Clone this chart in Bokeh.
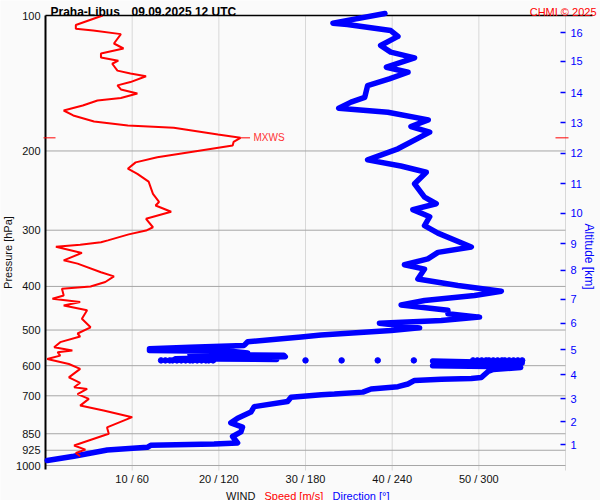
import math
from bokeh.plotting import figure
from bokeh.models import Range1d, Label
from bokeh.core.properties import value
from bokeh.embed import file_html
from bokeh.resources import INLINE

# ---------------- data ----------------
# wind speed profile [m/s] vs pressure [hPa]
SPD_P = [100, 105, 107, 108, 110, 115.4, 118.4, 121.5, 124, 126, 128, 132.6, 134.6, 136.5,
         140.6, 143, 146, 149, 152.5, 154.5, 158.5, 162.6, 166.8, 172, 175.6, 177.6, 183.9,
         187, 191, 194.5, 201, 206.5, 212, 219, 224.8, 234, 249, 259.6, 264.4, 273, 283,
         295.5, 300.5, 306.5, 316, 319, 323, 326.5, 337, 350, 356, 372, 380, 391, 400,
         404.6, 419, 426, 433, 441, 452, 472, 493, 509, 517, 532, 546, 555, 560, 570, 580,
         595, 610, 637, 655, 670, 676, 694, 711, 736, 755, 781, 823, 850, 888, 903, 922,
         938, 954]
SPD_V = [6.6, 3.5, 3.5, 5.5, 8.7, 7.9, 9.0, 6.4, 6.4, 8.4, 7.7, 8.3, 9.8, 11.6,
         9.8, 8.3, 8.7, 10.6, 8.7, 6.0, 4.3, 2.1, 3.2, 5.6, 9.5, 14.8, 19.9,
         22.5, 21.7, 21.6, 16.8, 12.9, 10.4, 9.5, 10.6, 11.9, 12.4, 13.1, 12.7, 14.5, 11.6,
         12.4, 11.6, 9.6, 7.2, 6.4, 4.0, 1.2, 4.2, 2.1, 3.7, 6.4, 7.9, 6.9, 5.2,
         1.9, 2.1, 0.8, 4.0, 2.1, 4.8, 4.2, 5.2, 3.7, 4.0, 1.7, 1.0, 3.1, 1.4, 1.7, 0.2,
         2.7, 4.0, 2.7, 4.0, 3.3, 4.8, 3.7, 5.0, 4.0, 6.7, 10.0, 7.1, 7.3, 4.4, 3.3, 4.6,
         3.5, 4.0]

# wind direction [deg] vs pressure, upper part
DIR_UP_P = [99, 104, 104.7, 108, 111.3, 116.6, 120.6, 124.2, 130.3, 133.7, 138.3, 143.1, 152,
            155.8, 160.7, 164, 170.6, 176.5, 181.6, 197.8, 209.3, 216, 223, 236.6, 253.4,
            262, 270, 280, 292.9, 304.5, 327, 336, 347.4, 358, 366, 385, 398, 410, 419,
            430, 440, 452, 460, 468, 476, 483, 494.5, 501, 513, 518, 531, 541, 546, 550,
            555, 558, 562, 566, 569, 573, 576, 579, 581]
DIR_UP_V = [235, 199, 209, 239, 244, 232, 239, 255.5, 236, 251, 238, 223, 221,
            211.5, 203, 237, 265, 253, 266, 244, 223, 246, 263.6, 255.5, 262.4,
            270.5, 254.3, 266, 262.4, 271.7, 294.8, 271.7, 264.7, 248.5, 262.4, 257.8, 285.5, 315.6, 297,
            262.4, 246.2, 278.6, 278.6, 300.5, 274, 231.2, 259, 239.3, 190.7, 177, 140, 137.5, 100, 72,
            72, 130, 140, 100, 165, 166, 120, 90, 160]
# wind direction, lower part
DIR_LO_P = [586, 592, 597, 600, 603, 606, 612, 618, 637.7, 641, 643, 647, 659, 668, 676, 687,
            694, 696, 705, 721, 740, 761, 785, 804, 822, 842, 862, 891, 896, 902, 911, 924,
            954, 975]
DIR_LO_V = [268, 330, 300, 268, 320, 329, 310, 306.4, 301.7, 294.8, 274, 255.5, 250.9, 244, 225.4, 219.7,
            200, 191, 170, 167.6, 144.5, 142.2, 133, 128.3, 136.4, 135.3, 129.5, 133, 116.7, 72.8, 70.5, 42.8,
            19.6, 1.2]
# isolated direction samples at one level
DOT_P = 584
DOT_V = [80, 83, 86, 88, 91, 94, 97, 100, 102, 105, 108, 111, 113, 116, 180, 205, 230, 255,
         296, 299, 302, 305, 307, 310, 313, 316, 318, 321, 324, 327, 330]

P_TICKS = [100, 200, 300, 400, 500, 600, 700, 850, 925, 1000]
X_TICKS = [10, 20, 30, 40, 50]
X_LABELS = ["10 / 60", "20 / 120", "30 / 180", "40 / 240", "50 / 300"]
ALT_KM = list(range(1, 17))
ALT_P = [898.2, 798.6, 710.0, 627.9, 552.4, 483.5, 427.6, 368.6, 321.2, 275.4, 236.3, 202.6,
         172.9, 148.3, 126.5, 109.1]
SPD_MAX_AXIS = 60
P_TOP, P_BOT = 100, 1000

# ---------------- layout (pixels of the 600x500 canvas) ----------------
W, H = 600, 500
PL, PR, PT, PB = 45, 565, 15, 465          # plotting area edges
PXU = (PR - PL) / SPD_MAX_AXIS              # px per m/s
PXD = (PB - PT) / math.log10(P_BOT / P_TOP)  # px per pressure decade
BG = "#fafafa"
FONT = "Liberation Sans"


def xs(px):
    return (px - PL) / PXU


def ys(py):
    return P_TOP * 10 ** ((py - PT) / PXD)


p = figure(width=W, height=H, output_backend="svg", toolbar_location=None, title=None,
           x_range=Range1d(xs(0), xs(W)), y_range=Range1d(ys(H), ys(0)), y_axis_type="log",
           x_axis_location=None, y_axis_location=None, min_border=0,
           background_fill_color=BG, border_fill_color=BG, outline_line_color=None)
p.grid.visible = False
p.extra_x_ranges = {"dir": Range1d(xs(0) * 6, xs(W) * 6)}

# grid lines
p.segment(x0=X_TICKS + [SPD_MAX_AXIS], x1=X_TICKS + [SPD_MAX_AXIS],
          y0=[P_TOP] * 6, y1=[ys(470)] * 6, line_color="#d8d8d8", line_width=1)
p.segment(x0=[0] * (len(P_TICKS) - 1), x1=[SPD_MAX_AXIS] * (len(P_TICKS) - 1),
          y0=P_TICKS[1:], y1=P_TICKS[1:], line_color="#a6a6a6", line_width=1)
# frame lines
p.segment(x0=[0], x1=[xs(592)], y0=[P_TOP], y1=[P_TOP], line_color="black", line_width=1.5)
p.segment(x0=[0], x1=[0], y0=[P_TOP], y1=[ys(469)], line_color="black", line_width=2)

# left tick labels
p.text(x=[0] * len(P_TICKS), y=P_TICKS, text=[str(t) for t in P_TICKS], x_offset=-5,
       text_align="right", text_baseline="middle", text_font=value(FONT),
       text_font_size=value("11px"), text_color="#111111")
# bottom tick labels
p.text(x=X_TICKS, y=[P_BOT] * len(X_TICKS), text=X_LABELS, y_offset=13,
       text_align="center", text_baseline="middle", text_font=value(FONT),
       text_font_size=value("11px"), text_color="#111111")
# altitude scale
p.segment(x0=[xs(560)] * len(ALT_P), x1=[SPD_MAX_AXIS] * len(ALT_P), y0=ALT_P, y1=ALT_P,
          line_color="blue", line_width=1.5)
p.text(x=[SPD_MAX_AXIS] * len(ALT_P), y=ALT_P, text=[str(k) for k in ALT_KM], x_offset=5,
       text_align="left", text_baseline="middle", text_font=value(FONT),
       text_font_size=value("11px"), text_color="blue")

# direction (blue)
p.line(DIR_UP_V, DIR_UP_P, x_range_name="dir", line_color="blue", line_width=5.5,
       line_join="round", line_cap="round")
p.line(DIR_LO_V, DIR_LO_P, x_range_name="dir", line_color="blue", line_width=5.5,
       line_join="round", line_cap="round")
p.scatter(DOT_V, [DOT_P] * len(DOT_V), x_range_name="dir", size=5.5, color="blue")

# speed (red)
p.line(SPD_V, SPD_P, line_color="red", line_width=2)

# max wind marker
imax = max(range(len(SPD_V)), key=lambda i: SPD_V[i])
smax, pmax = SPD_V[imax], SPD_P[imax]
p.segment(x0=[smax, xs(43), xs(555)], y0=[pmax] * 3, x1=[smax + 1.1, xs(55), xs(568)],
          y1=[pmax] * 3, line_color="red", line_width=1)
p.add_layout(Label(x=smax, y=pmax, x_offset=13, text="MXWS", text_color="#ff3333",
                   text_font=FONT, text_font_size="10px", text_baseline="middle"))


def lab(px, py, text, color="black", size="11px", style="normal", align="left",
        baseline="alphabetic", angle=0.0):
    p.add_layout(Label(x=xs(px), y=ys(py), text=text, text_color=color, text_font=FONT,
                       text_font_size=size, text_font_style=style, text_align=align,
                       text_baseline=baseline, angle=angle))


lab(50, 11.5, "Praha-Libus", size="12px", style="bold")
lab(131, 11.5, "09.09.2025 12 UTC", size="12px", style="bold")
lab(596, 11.5, "CHMI \u00a9 2025", color="red", size="11px", align="right")
lab(7, 252, "Pressure [hPa]", color="#111111", size="11px", align="center",
    baseline="middle", angle=math.pi / 2)
lab(588, 256, "Altitude [km]", color="blue", size="12px", align="center",
    baseline="middle", angle=-math.pi / 2)
lab(225.5, 495, "WIND", color="#111111")
lab(264, 495, "Speed [m/s]", color="red")
lab(332, 495, "Direction [\u00b0]", color="blue")

open("out.html", "w").write(file_html(p, INLINE))
